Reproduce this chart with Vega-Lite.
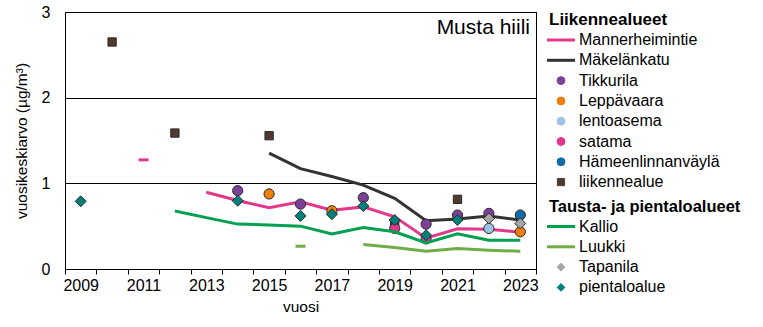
{
  "$schema": "https://vega.github.io/schema/vega-lite/v6.json",
  "width": 471,
  "height": 257,
  "autosize": {"type": "none"},
  "padding": {"left": 65, "top": 12, "right": 227, "bottom": 58},
  "config": {
    "font": "Liberation Sans",
    "view": {"stroke": "black", "strokeWidth": 1}
  },
  "title": {
    "text": "Musta hiili",
    "anchor": "end",
    "frame": "group",
    "offset": -51,
    "baseline": "alphabetic",
    "dx": -6,
    "fontSize": 21,
    "fontWeight": "normal",
    "font": "Liberation Sans",
    "color": "black"
  },
  "data": {
    "values": [
      {"s": "Mannerheimintie", "k": "L1", "year": 2013, "v": 0.896},
      {"s": "Mannerheimintie", "k": "L1", "year": 2014, "v": 0.8},
      {"s": "Mannerheimintie", "k": "L1", "year": 2015, "v": 0.715},
      {"s": "Mannerheimintie", "k": "L1", "year": 2016, "v": 0.785},
      {"s": "Mannerheimintie", "k": "L1", "year": 2017, "v": 0.685},
      {"s": "Mannerheimintie", "k": "L1", "year": 2018, "v": 0.725},
      {"s": "Mannerheimintie", "k": "L1", "year": 2019, "v": 0.61},
      {"s": "Mannerheimintie", "k": "L1", "year": 2020, "v": 0.36},
      {"s": "Mannerheimintie", "k": "L1", "year": 2021, "v": 0.47},
      {"s": "Mannerheimintie", "k": "L1", "year": 2022, "v": 0.465},
      {"s": "Mannerheimintie", "k": "L1", "year": 2023, "v": 0.43},
      {"s": "Mannerheimintie", "k": "T1", "year": 2011, "v": 1.274},
      {"s": "Mäkelänkatu", "k": "L1", "year": 2015, "v": 1.353},
      {"s": "Mäkelänkatu", "k": "L1", "year": 2016, "v": 1.172},
      {"s": "Mäkelänkatu", "k": "L1", "year": 2017, "v": 1.08},
      {"s": "Mäkelänkatu", "k": "L1", "year": 2018, "v": 0.98},
      {"s": "Mäkelänkatu", "k": "L1", "year": 2019, "v": 0.825},
      {"s": "Mäkelänkatu", "k": "L1", "year": 2020, "v": 0.563},
      {"s": "Mäkelänkatu", "k": "L1", "year": 2021, "v": 0.583},
      {"s": "Mäkelänkatu", "k": "L1", "year": 2022, "v": 0.618},
      {"s": "Mäkelänkatu", "k": "L1", "year": 2023, "v": 0.571},
      {"s": "liikennealue", "k": "S1", "year": 2010, "v": 2.65},
      {"s": "liikennealue", "k": "S1", "year": 2012, "v": 1.587},
      {"s": "liikennealue", "k": "S1", "year": 2015, "v": 1.556},
      {"s": "liikennealue", "k": "S1", "year": 2019, "v": 0.54},
      {"s": "liikennealue", "k": "S1", "year": 2021, "v": 0.813},
      {"s": "Tikkurila", "k": "C1", "year": 2014, "v": 0.914},
      {"s": "Tikkurila", "k": "C1", "year": 2016, "v": 0.758},
      {"s": "Tikkurila", "k": "C1", "year": 2018, "v": 0.832},
      {"s": "Tikkurila", "k": "C1", "year": 2020, "v": 0.524},
      {"s": "Tikkurila", "k": "C1", "year": 2021, "v": 0.63},
      {"s": "Tikkurila", "k": "C1", "year": 2022, "v": 0.649},
      {"s": "Leppävaara", "k": "C1", "year": 2015, "v": 0.876},
      {"s": "Leppävaara", "k": "C1", "year": 2017, "v": 0.68},
      {"s": "Leppävaara", "k": "C1", "year": 2023, "v": 0.434},
      {"s": "Hämeenlinnanväylä", "k": "C1", "year": 2023, "v": 0.63},
      {"s": "lentoasema", "k": "C1", "year": 2022, "v": 0.473},
      {"s": "satama", "k": "C1", "year": 2019, "v": 0.473},
      {"s": "satama", "k": "C1", "year": 2020, "v": 0.352},
      {"s": "Kallio", "k": "L2", "year": 2012, "v": 0.676},
      {"s": "Kallio", "k": "L2", "year": 2013, "v": 0.6},
      {"s": "Kallio", "k": "L2", "year": 2014, "v": 0.524},
      {"s": "Kallio", "k": "L2", "year": 2015, "v": 0.515},
      {"s": "Kallio", "k": "L2", "year": 2016, "v": 0.5},
      {"s": "Kallio", "k": "L2", "year": 2017, "v": 0.41},
      {"s": "Kallio", "k": "L2", "year": 2018, "v": 0.485},
      {"s": "Kallio", "k": "L2", "year": 2019, "v": 0.434},
      {"s": "Kallio", "k": "L2", "year": 2020, "v": 0.305},
      {"s": "Kallio", "k": "L2", "year": 2021, "v": 0.41},
      {"s": "Kallio", "k": "L2", "year": 2022, "v": 0.336},
      {"s": "Kallio", "k": "L2", "year": 2023, "v": 0.336},
      {"s": "Luukki", "k": "T2", "year": 2016, "v": 0.266},
      {"s": "Luukki", "k": "L2", "year": 2018, "v": 0.286},
      {"s": "Luukki", "k": "L2", "year": 2019, "v": 0.25},
      {"s": "Luukki", "k": "L2", "year": 2020, "v": 0.207},
      {"s": "Luukki", "k": "L2", "year": 2021, "v": 0.239},
      {"s": "Luukki", "k": "L2", "year": 2022, "v": 0.219},
      {"s": "Luukki", "k": "L2", "year": 2023, "v": 0.207},
      {"s": "pientaloalue", "k": "D2", "year": 2009, "v": 0.79},
      {"s": "pientaloalue", "k": "D2", "year": 2014, "v": 0.797},
      {"s": "pientaloalue", "k": "D2", "year": 2016, "v": 0.62},
      {"s": "pientaloalue", "k": "D2", "year": 2017, "v": 0.64},
      {"s": "pientaloalue", "k": "D2", "year": 2018, "v": 0.735},
      {"s": "pientaloalue", "k": "D2", "year": 2019, "v": 0.571},
      {"s": "pientaloalue", "k": "D2", "year": 2020, "v": 0.395},
      {"s": "pientaloalue", "k": "D2", "year": 2021, "v": 0.571},
      {"s": "Tapanila", "k": "D2", "year": 2022, "v": 0.59},
      {"s": "Tapanila", "k": "D2", "year": 2023, "v": 0.532}
    ]
  },
  "encoding": {
    "x": {
      "field": "year",
      "type": "ordinal",
      "scale": {
        "type": "band",
        "domain": [2009, 2010, 2011, 2012, 2013, 2014, 2015, 2016, 2017, 2018, 2019, 2020, 2021, 2022, 2023],
        "paddingInner": 0,
        "paddingOuter": 0
      },
      "axis": {
        "title": "vuosi",
        "titleFontSize": 15.5,
        "titleFontWeight": "normal",
        "titleColor": "black",
        "titlePadding": 6,
        "labelFontSize": 16,
        "labelColor": "black",
        "labelAngle": 0,
        "labelPadding": 3,
        "tickBand": "extent",
        "tickColor": "black",
        "tickSize": 5,
        "domainColor": "black",
        "grid": false,
        "labelExpr": "datum.value % 2 == 1 ? datum.label : ''"
      }
    },
    "y": {
      "field": "v",
      "type": "quantitative",
      "scale": {"domain": [0, 3], "nice": false},
      "axis": {
        "title": "vuosikeskiarvo (µg/m³)",
        "values": [0, 1, 2, 3],
        "grid": true,
        "gridColor": "black",
        "gridOpacity": 1,
        "ticks": false,
        "labelPadding": 15,
        "labelFontSize": 16,
        "labelColor": "black",
        "domainColor": "black",
        "titleFontSize": 15.5,
        "titleFontWeight": "normal",
        "titleColor": "black",
        "titlePadding": 12
      }
    }
  },
  "layer": [
    {
      "encoding": {
        "color": {
          "field": "s",
          "type": "nominal",
          "scale": {
            "domain": ["Mannerheimintie", "Mäkelänkatu", "Tikkurila", "Leppävaara", "lentoasema", "satama", "Hämeenlinnanväylä", "liikennealue"],
            "range": ["#e2388c", "#333333", "#7d3f98", "#f07f09", "#9dc3e6", "#e0368c", "#0f6aa6", "#4e3b2e"]
          },
          "legend": {
            "title": "Liikennealueet",
            "orient": "right",
            "offset": 13,
            "padding": 0,
            "titleFontSize": 17,
            "titleFontWeight": "bold",
            "titleColor": "black",
            "titleFont": "Liberation Sans",
            "titlePadding": 3,
            "titleLimit": 300,
            "labelFontSize": 16,
            "labelColor": "black",
            "labelFont": "Liberation Sans",
            "labelOffset": 10,
            "labelLimit": 300,
            "symbolSize": 400,
            "symbolOffset": 4,
            "rowPadding": 4.3,
            "encode": {
              "symbols": {
                "update": {
                  "shape": {"signal": "(datum.value == 'Mannerheimintie' || datum.value == 'Mäkelänkatu') ? 'M-1.4,0H1.4' : (datum.value == 'liikennealue' ? 'square' : 'circle')"},
                  "size": {"signal": "(datum.value == 'Mannerheimintie' || datum.value == 'Mäkelänkatu') ? 400 : (datum.value == 'liikennealue' ? 52 : 62)"},
                  "strokeWidth": {"signal": "(datum.value == 'Mannerheimintie' || datum.value == 'Mäkelänkatu') ? 3 : 1"},
                  "stroke": {"signal": "datum.value == 'Mannerheimintie' ? '#e2388c' : '#333333'"},
                  "fill": {"signal": "(datum.value == 'Mannerheimintie' || datum.value == 'Mäkelänkatu') ? 'transparent' : datum.value == 'Tikkurila' ? '#7d3f98' : datum.value == 'Leppävaara' ? '#f07f09' : datum.value == 'lentoasema' ? '#9dc3e6' : datum.value == 'satama' ? '#e0368c' : datum.value == 'Hämeenlinnanväylä' ? '#0f6aa6' : '#4e3b2e'"},
                  "opacity": {"value": 1}
                }
              }
            }
          }
        }
      },
      "layer": [
        {
          "transform": [{"filter": "datum.k == 'L1'"}],
          "mark": {"type": "line", "strokeWidth": 3}
        },
        {
          "transform": [{"filter": "datum.k == 'T1'"}],
          "mark": {"type": "tick", "size": 10, "thickness": 3, "opacity": 1}
        },
        {
          "transform": [{"filter": "datum.k == 'S1'"}],
          "mark": {"type": "point", "shape": "square", "filled": true, "size": 69, "stroke": "#2b2b2b", "strokeWidth": 1, "opacity": 1}
        },
        {
          "transform": [{"filter": "datum.k == 'C1'"}],
          "mark": {"type": "point", "shape": "circle", "filled": true, "size": 104, "stroke": "#2b2b2b", "strokeWidth": 1, "opacity": 1}
        }
      ]
    },
    {
      "encoding": {
        "color": {
          "field": "s",
          "type": "nominal",
          "scale": {
            "domain": ["Kallio", "Luukki", "Tapanila", "pientaloalue"],
            "range": ["#00a04f", "#70ad47", "#a6a6a6", "#00807a"]
          },
          "legend": {
            "title": "Tausta- ja pientaloalueet",
            "orient": "right",
            "offset": 13,
            "padding": 0,
            "titleFontSize": 16.5,
            "titleFontWeight": "bold",
            "titleColor": "black",
            "titleFont": "Liberation Sans",
            "titlePadding": 3,
            "titleLimit": 300,
            "labelFontSize": 16,
            "labelColor": "black",
            "labelFont": "Liberation Sans",
            "labelOffset": 10,
            "labelLimit": 300,
            "symbolSize": 400,
            "symbolOffset": 4,
            "rowPadding": 4.3,
            "encode": {
              "symbols": {
                "update": {
                  "shape": {"signal": "(datum.value == 'Kallio' || datum.value == 'Luukki') ? 'M-1.4,0H1.4' : 'diamond'"},
                  "size": {"signal": "(datum.value == 'Kallio' || datum.value == 'Luukki') ? 400 : 60"},
                  "strokeWidth": {"signal": "(datum.value == 'Kallio' || datum.value == 'Luukki') ? 3 : 1"},
                  "stroke": {"signal": "datum.value == 'Kallio' ? '#00a04f' : datum.value == 'Luukki' ? '#70ad47' : '#333333'"},
                  "fill": {"signal": "(datum.value == 'Kallio' || datum.value == 'Luukki') ? 'transparent' : datum.value == 'Tapanila' ? '#a6a6a6' : '#00807a'"},
                  "opacity": {"value": 1}
                }
              }
            }
          }
        }
      },
      "layer": [
        {
          "transform": [{"filter": "datum.k == 'L2'"}],
          "mark": {"type": "line", "strokeWidth": 3}
        },
        {
          "transform": [{"filter": "datum.k == 'T2'"}],
          "mark": {"type": "tick", "size": 10, "thickness": 3, "opacity": 1}
        },
        {
          "transform": [{"filter": "datum.k == 'D2'"}],
          "mark": {"type": "point", "shape": "diamond", "filled": true, "size": 121, "stroke": "#2b2b2b", "strokeWidth": 1, "opacity": 1}
        }
      ]
    }
  ],
  "resolve": {"scale": {"color": "independent"}}
}
